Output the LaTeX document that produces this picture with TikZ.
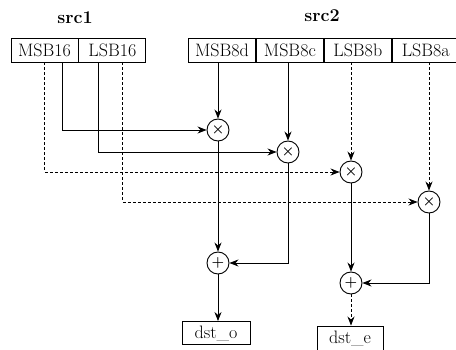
\documentclass[tikz,border=0pt]{standalone}
\usepackage{tikz}
\usetikzlibrary{arrows.meta,positioning}

\begin{document}
\begin{tikzpicture}[x=1pt,y=-1pt,font=\fontsize{18}{20}\selectfont,node distance=0pt,line width=0.9pt]
  \tikzstyle{reg}=[draw,minimum height=24pt,minimum width=67pt,inner sep=1pt]
  \tikzstyle{op}=[draw,circle,minimum size=22pt,inner sep=0pt,font=\fontsize{15}{15}\selectfont\boldmath]
  \tikzstyle{arr}=[-{Stealth[length=9pt,width=7pt]}]
  \tikzstyle{lowpath}=[dash pattern=on 3pt off 2pt]
  \useasboundingbox (0,0) rectangle (456,350);
  % source registers
  \node[reg] (msb16) at (44.5,50) {MSB16};
  \node[reg,right=of msb16] (lsb16) {LSB16};
  \node[reg] (msb8d) at (222,50) {MSB8d};
  \node[reg,right=of msb8d] (msb8c) {MSB8c};
  \node[reg,right=of msb8c] (lsb8b) {LSB8b};
  \node[reg,right=of lsb8b] (lsb8a) {LSB8a};
  \node[font=\fontsize{18}{20}\selectfont\bfseries] (src1) at (75,18) {src1};
  \node[font=\fontsize{18}{20}\selectfont\bfseries] (src2) at (322,16) {src2};
  % multipliers and adders
  \node[op] (m1) at (218,130) {$\times$};
  \node[op] (m2) at (288,152) {$\times$};
  \node[op] (m3) at (351,172) {$\times$};
  \node[op] (m4) at (429,202) {$\times$};
  \node[op] (a1) at (218,263) {$+$};
  \node[op] (a2) at (351,283) {$+$};
  % destinations
  \node[reg,minimum width=68pt,minimum height=23pt] (dsto) at (216,333) {dst\_o};
  \node[reg,minimum width=66pt] (dste) at (350,338) {dst\_e};
  % src1 into the multipliers
  \draw[arr] ([xshift=17.5pt]msb16.south) |- (m1);
  \draw[arr] ([xshift=-14pt]lsb16.south) |- (m2);
  \draw[arr,lowpath] (msb16.south) |- (m3);
  \draw[arr,lowpath] ([xshift=10pt]lsb16.south) |- (m4);
  % src2 into the multipliers
  \draw[arr] (msb8d.south -| m1) -- (m1);
  \draw[arr] (msb8c.south -| m2) -- (m2);
  \draw[arr,lowpath] (lsb8b.south -| m3) -- (m3);
  \draw[arr,lowpath] (lsb8a.south -| m4) -- (m4);
  % sums
  \draw[arr] (m1) -- (a1);
  \draw[arr] (m2) |- (a1);
  \draw[arr] (m3) -- (a2);
  \draw[arr] (m4) |- (a2);
  \draw[arr] (a1) -- (a1 |- dsto.north);
  \draw[arr,lowpath] (a2) -- (a2 |- dste.north);
\end{tikzpicture}
\end{document}
